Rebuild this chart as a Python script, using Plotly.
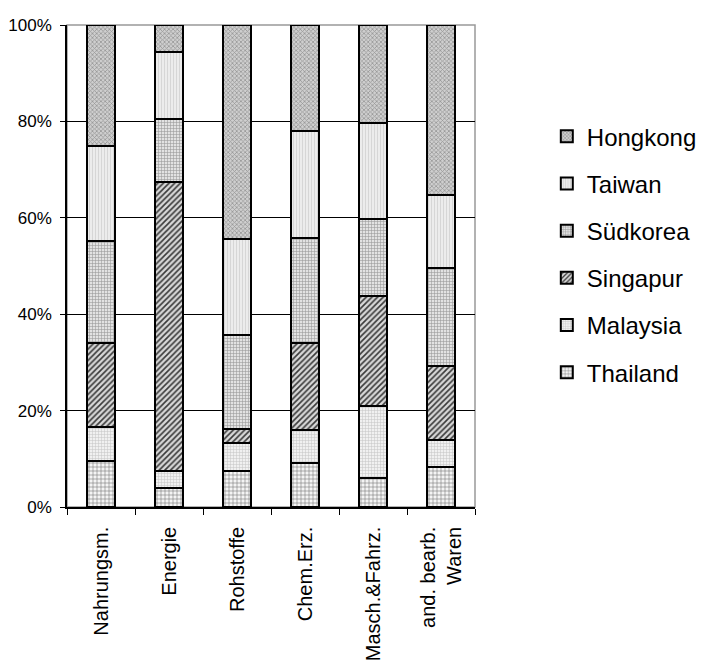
import plotly.graph_objects as go

categories = ["Nahrungsm.", "Energie", "Rohstoffe", "Chem.Erz.", "Masch.&Fahrz.", "and. bearb.<br>Waren"]

thailand = [9.5, 3.9, 7.4, 9.1, 6.1, 8.2]
malaysia = [7.0, 3.5, 5.9, 6.9, 14.9, 5.8]
singapur = [17.5, 60.1, 2.8, 18.0, 22.8, 15.3]
suedkorea = [21.2, 13.0, 19.5, 21.9, 15.9, 20.3]
taiwan = [19.8, 14.0, 19.9, 22.1, 19.9, 15.1]
hongkong = [25.0, 5.5, 44.5, 22.0, 20.4, 35.3]

series = [
    ("Thailand", thailand, dict(shape="+", bgcolor="#f4f4f4", fgcolor="#6a6a6a", size=4, solidity=0.25)),
    ("Malaysia", malaysia, dict(shape="+", bgcolor="#f0f0f0", fgcolor="#c4c4c4", size=3, solidity=0.3)),
    ("Singapur", singapur, dict(shape="/", bgcolor="#d8d8d8", fgcolor="#3a3a3a", size=4, solidity=0.4)),
    ("Südkorea", suedkorea, dict(shape="+", bgcolor="#e2e2e2", fgcolor="#9a9a9a", size=3, solidity=0.35)),
    ("Taiwan", taiwan, dict(shape="|", bgcolor="#efefef", fgcolor="#d6d6d6", size=3, solidity=0.4)),
    ("Hongkong", hongkong, dict(shape="x", bgcolor="#cfcfcf", fgcolor="#959595", size=3, solidity=0.45)),
]

fig = go.Figure()
n = len(series)
for i, (name, vals, pat) in enumerate(series):
    fig.add_trace(go.Bar(
        name=name, x=categories, y=vals, legendgroup=name, legendrank=n - i,
        marker=dict(color=pat["bgcolor"], line=dict(color="black", width=2),
                    pattern=dict(shape=pat["shape"], bgcolor=pat["bgcolor"], fgcolor=pat["fgcolor"],
                                 size=pat["size"], solidity=pat["solidity"], fillmode="replace")),
    ))

fig.update_layout(
    barmode="stack",
    bargap=0.6,
    width=706, height=669,
    margin=dict(l=59, r=239, t=17, b=170, pad=0, autoexpand=False),
    paper_bgcolor="white", plot_bgcolor="white",
    font=dict(family="Liberation Sans, Arial, sans-serif", color="black"),
    showlegend=True,
    legend=dict(
        x=1.176, xanchor="left", y=0.815, yanchor="top",
        traceorder="grouped", tracegroupgap=13,
        font=dict(size=24, family="Liberation Sans, Arial, sans-serif"),
        bgcolor="rgba(0,0,0,0)", itemwidth=30,
    ),
    shapes=[dict(type="rect", xref="paper", yref="paper", x0=0, x1=1, y0=0, y1=1,
                 line=dict(color="#999999", width=1.5), layer="between")],
)

fig.update_yaxes(
    range=[0, 100], dtick=20, ticksuffix="%",
    showgrid=True, gridcolor="black", gridwidth=1,
    showline=True, linecolor="black", linewidth=1.5,
    ticks="outside", ticklen=5, tickcolor="black",
    tickfont=dict(size=17), zeroline=False, ticklabelstandoff=5, automargin=False,
)
fig.update_xaxes(
    showline=True, linecolor="black", linewidth=1.5,
    ticks="outside", ticklen=6, tickcolor="black", tickson="boundaries",
    tickangle=-90, tickfont=dict(size=20), showgrid=False,
    ticklabelstandoff=10, automargin=False,
)

fig.write_html("out.html")
